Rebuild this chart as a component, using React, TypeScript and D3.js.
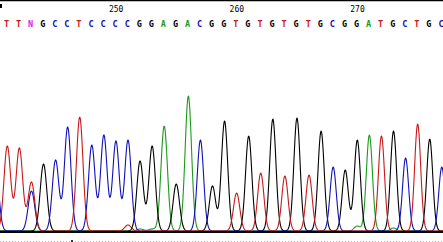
import React, { useEffect } from "react";
import * as d3 from "d3";

const W = 443;
const H = 242;

const FIRST_BASE = 240;
const FIRST_SHOWN = 241;
const calls = ["C","T","T","N","G","C","C","T","C","C","C","C","G","G","A","G","A","C","G","G","T","G","T","G","T","G","T","G","C","G","G","A","T","G","C","T","G","C"];

// peak heights per base position (index aligned with calls)
const signalA = [0,0,0,0,0,0,0,0,0,0,0,0,2,2,105,0,135,0,0,0,0,0,0,0,0,0,0,0,0,0,5,96,0,3,0,0,0,0];
const signalC = [70,0,0,40,0,71,104,0,86,96,90,91,0,0,0,0,0,91,0,0,0,0,0,0,0,0,0,0,64,0,0,0,0,0,73,0,0,64];
const signalG = [0,0,0,0,67,0,0,0,0,0,0,0,70,85,0,47,0,0,45,110,0,95,0,112,0,113,0,100,0,61,91,0,0,100,0,0,92,0];
const signalT = [0,85,83,49,0,0,0,114,0,0,0,6,0,0,0,0,0,0,0,0,38,0,58,0,55,0,56,0,0,0,0,0,95,0,0,107,0,0];

const tickBases = [250, 260, 270];

const COLORS: Record<string, string> = {
  A: "#1a9a1a",
  C: "#1010b8",
  G: "#000000",
  T: "#c81818",
  N: "#e01ce0",
};

export default function App() {
  useEffect(() => {
    document.body.style.margin = "0";
  }, []);

  const x = d3.scaleLinear().domain([241, 277]).range([6.5, 441]);
  const y = d3.scaleLinear().domain([0, 100]).range([231, 131]);

  const xs = d3.range(-2, W + 3, 0.5);
  const sigmaAt = (px: number) => 3.35 - (0.35 * px) / W;
  const trace = (sig: number[]) =>
    xs.map((px) => {
      let v = 0;
      sig.forEach((h, i) => {
        if (!h) return;
        const c = x(FIRST_BASE + i) + 0.8;
        const s = sigmaAt(c);
        v += h * Math.exp(-((px - c) * (px - c)) / (2 * s * s));
      });
      return [px, v] as [number, number];
    });

  const line = d3
    .line<[number, number]>()
    .x((d) => d[0])
    .y((d) => y(d[1]));

  const channels: [string, number[]][] = [
    ["A", signalA],
    ["G", signalG],
    ["C", signalC],
    ["T", signalT],
  ];

  return (
    <svg
      width={W}
      height={H}
      style={{ position: "absolute", left: 0, top: 0, background: "#fff" }}
    >
      <rect x={0} y={0} width={W} height={H} fill="#fff" />
      <line x1={0} x2={W} y1={0.5} y2={0.5} stroke="#000" strokeWidth={1.5} />
      <rect x={0} y={4} width={2} height={4} fill="#000" />
      {tickBases.map((b) => (
        <text
          key={b}
          x={x(b) + 1}
          y={12}
          textAnchor="middle"
          fontFamily="DejaVu Sans Mono"
          fontSize={8}
          fill="#000"
        >
          {b}
        </text>
      ))}
      {calls.map((c, i) =>
        FIRST_BASE + i < FIRST_SHOWN ? null : (
          <text
            key={i}
            x={x(FIRST_BASE + i)}
            y={27}
            textAnchor="middle"
            fontFamily="DejaVu Sans Mono"
            fontWeight="bold"
            fontSize={8.5}
            fill={COLORS[c]}
          >
            {c}
          </text>
        )
      )}
      <g fill="none" strokeWidth={1.1} strokeLinejoin="round">
        {channels.map(([k, sig]) => (
          <path key={k} d={line(trace(sig)) || ""} stroke={COLORS[k]} />
        ))}
      </g>
      <line x1={0} x2={W} y1={232} y2={232} stroke="#000" strokeWidth={2} />
      <line
        x1={0}
        x2={W}
        y1={241.5}
        y2={241.5}
        stroke="#b0b0b0"
        strokeWidth={1}
        strokeDasharray="1,2"
      />
      <rect x={71} y={240} width={2} height={2} fill="#333" />
    </svg>
  );
}
